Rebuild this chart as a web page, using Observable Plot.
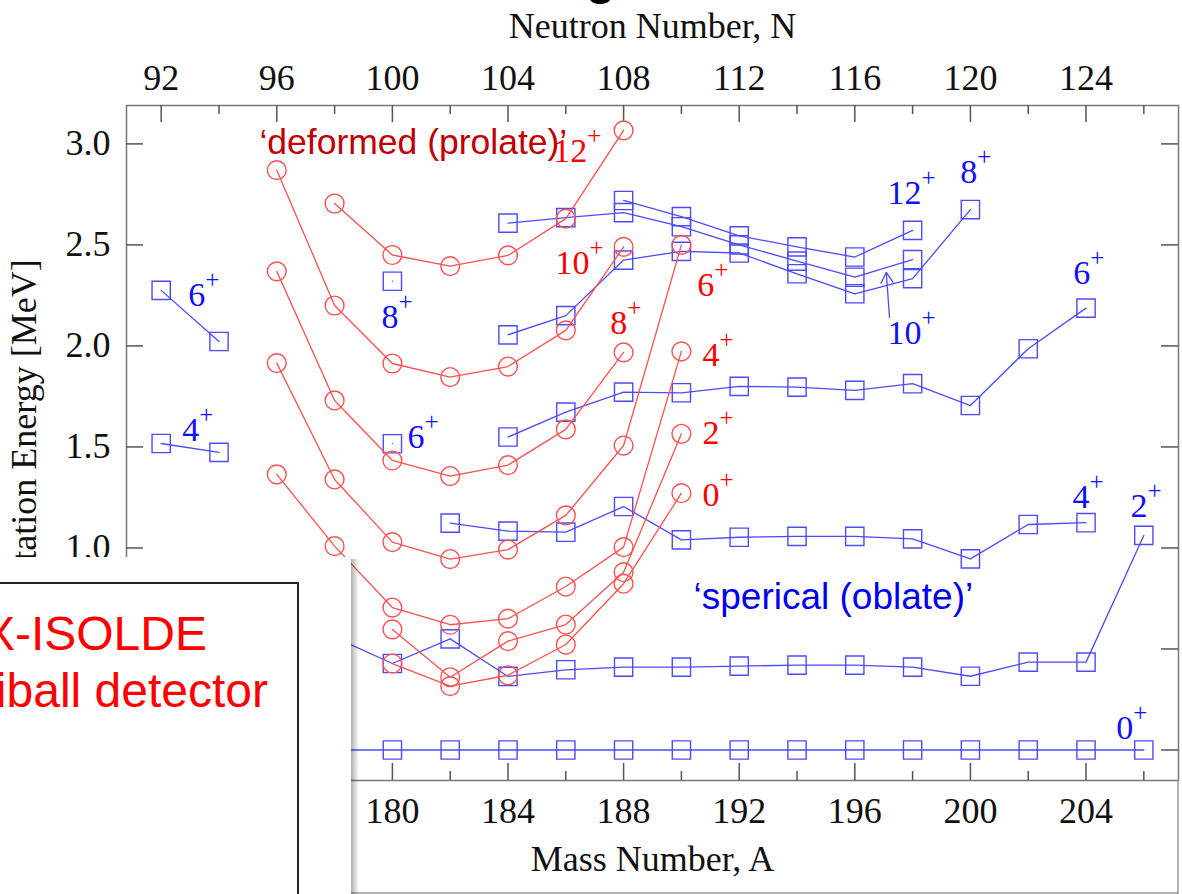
<!DOCTYPE html>
<html><head><meta charset="utf-8">
<script src="https://cdn.jsdelivr.net/npm/d3@7"></script>
<script src="https://cdn.jsdelivr.net/npm/@observablehq/plot@0.6"></script>
<style>
html,body{margin:0;padding:0;background:#fff;overflow:hidden;}
#wrap{position:relative;width:1182px;height:894px;overflow:hidden;background:#fff;}
#overlay{position:absolute;left:0;top:0;pointer-events:none;}
</style></head>
<body><div id="wrap"></div>
<script>
// Hg isotopes: N = A - Z
const Z = 80;
const neutronTicks = [92,96,100,104,108,112,116,120,124];
const neutronMinorTicks = [94,98,102,106,110,114,118,122,126];
const massTicks = [172,176,180,184,188,192,196,200,204];
const massMinorTicks = [174,178,182,186,190,194,198,202,206];
const energyTicks = [0,0.5,1.0,1.5,2.0,2.5,3.0];

// 'spherical (oblate)' states (blue squares)
const oblA0 = [172,174,176,178,180,182,184,186,188,190,192,194,196,198,200,202,204,206];
const oblE0 = [0,0,0,0,0,0,0,0,0,0,0,0,0,0,0,0,0,0];
const oblA2 = [178,180,182,184,186,188,190,192,194,196,198,200,202,204,206];
const oblE2 = [0.557,0.428,0.55,0.364,0.397,0.41,0.41,0.415,0.42,0.42,0.41,0.365,0.435,0.435,1.062];
const oblA4a = [172,174];
const oblE4a = [1.517,1.473];
const oblA4 = [182,184,186,188,190,192,194,196,198,200,202,204];
const oblE4 = [1.123,1.083,1.078,1.205,1.04,1.053,1.057,1.057,1.045,0.946,1.116,1.125];
const oblA6a = [172,174];
const oblE6a = [2.275,2.022];
const oblA6b = [180];
const oblE6b = [1.516];
const oblA6 = [184,186,188,190,192,194,196,198,200,202,204];
const oblE6 = [1.549,1.672,1.771,1.768,1.80,1.796,1.78,1.813,1.705,1.986,2.187];
const oblA8b = [180];
const oblE8b = [2.32];
const oblA8 = [184,186,188,190,192,194,196,198,200];
const oblE8 = [2.055,2.15,2.425,2.468,2.46,2.357,2.258,2.333,2.675];
const oblA10 = [184,186,188,190,192,194,196,198];
const oblE10 = [2.608,2.635,2.66,2.59,2.50,2.42,2.34,2.427];
const oblA12 = [188,190,192,194,196,198];
const oblE12 = [2.72,2.64,2.545,2.49,2.44,2.572];

// 'deformed (prolate)' states (red circles)
const proA0 = [180,182,184,186,188,190];
const proE0 = [0.428,0.316,0.37,0.522,0.823,1.271];
const proA2 = [180,182,184,186,188,190];
const proE2 = [0.597,0.36,0.539,0.621,0.88,1.565];
const proA4 = [176,178,180,182,184,186,188,190];
const proE4 = [1.364,1.009,0.705,0.62,0.65,0.809,1.004,1.973];
const proA6 = [176,178,180,182,184,186,188,190];
const proE6 = [1.915,1.339,1.029,0.945,0.992,1.161,1.507,2.50];
const proA8 = [176,178,180,182,184,186,188];
const proE8 = [2.369,1.73,1.433,1.356,1.41,1.587,1.968];
const proA10 = [176,178,180,182,184,186,188];
const proE10 = [2.87,2.20,1.913,1.846,1.898,2.077,2.49];
const proA12 = [178,180,182,184,186,188];
const proE12 = [2.705,2.45,2.395,2.448,2.63,3.067];

// level labels
const blueLabelText = ["6+","4+","8+","6+","12+","8+","10+","6+","4+","2+","0+"];
const blueLabelA = [172.94,172.73,179.62,180.52,197.13,199.65,197.13,203.56,203.53,205.54,205.05];
const blueLabelE = [2.25,1.582,2.141,1.547,2.755,2.859,2.062,2.359,1.25,1.205,0.106];
const redLabelText = ["12+","10+","8+","6+","4+","2+","0+"];
const redLabelA = [185.57,185.64,187.54,190.55,190.73,190.73,190.73];
const redLabelE = [2.963,2.408,2.111,2.30,1.953,1.567,1.26];

// arrow pointing at the oblate 10+ line
const arrowA = [197.20,197.09];
const arrowE = [2.141,2.364];

const BLUE = "#4b4bff", RED = "#ff5050";

function series(key, A, E) { return A.map((a,i) => ({key, A:a, E:E[i]})); }
const oblate = [
  ...series("o0",oblA0,oblE0), ...series("o2",oblA2,oblE2),
  ...series("o4a",oblA4a,oblE4a), ...series("o4",oblA4,oblE4),
  ...series("o6a",oblA6a,oblE6a), ...series("o6b",oblA6b,oblE6b), ...series("o6",oblA6,oblE6),
  ...series("o8b",oblA8b,oblE8b), ...series("o8",oblA8,oblE8),
  ...series("o10",oblA10,oblE10), ...series("o12",oblA12,oblE12)
];
const prolate = [
  ...series("p0",proA0,proE0), ...series("p2",proA2,proE2), ...series("p4",proA4,proE4),
  ...series("p6",proA6,proE6), ...series("p8",proA8,proE8), ...series("p10",proA10,proE10),
  ...series("p12",proA12,proE12)
];
const blueLabels = blueLabelText.map((t,i) => ({t, A: blueLabelA[i], E: blueLabelE[i]}));
const redLabels = redLabelText.map((t,i) => ({t, A: redLabelA[i], E: redLabelE[i]}));

const W = 1182, H = 894, mL = 126, mR = 4, mT = 105, mB = 114;
const iw = W - mL - mR, ih = H - mT - mB;

const chart = Plot.plot({
  width: W, height: H,
  marginLeft: mL, marginRight: mR, marginTop: mT, marginBottom: mB,
  style: {fontFamily: "'Liberation Serif', 'Times New Roman', serif", fontSize: "36px", background: "#fff", color: "#111"},
  x: {domain: [170.8, 207.2]},
  y: {domain: [-0.151, 3.19]},
  marks: [
    Plot.frame({stroke: "#777", strokeWidth: 1.5}),
    // inward ticks
    Plot.ruleX(massTicks, {x: d => d, insetTop: ih - 17, stroke: "#555", strokeWidth: 1.5}),
    Plot.ruleX(massMinorTicks, {x: d => d, insetTop: ih - 9, stroke: "#555", strokeWidth: 1.5}),
    Plot.ruleX(neutronTicks, {x: n => n + Z, insetBottom: ih - 17, stroke: "#555", strokeWidth: 1.5}),
    Plot.ruleX(neutronMinorTicks, {x: n => n + Z, insetBottom: ih - 9, stroke: "#555", strokeWidth: 1.5}),
    Plot.ruleY(energyTicks, {y: d => d, insetRight: iw - 17, stroke: "#555", strokeWidth: 1.5}),
    Plot.ruleY(energyTicks, {y: d => d, insetLeft: iw - 17, stroke: "#555", strokeWidth: 1.5}),
    // axis labels
    Plot.axisX({anchor: "bottom", ticks: massTicks, tickSize: 0, tickPadding: 17, label: null, fontSize: 36}),
    Plot.axisX({anchor: "top", ticks: neutronTicks.map(n => n + Z), tickSize: 0, tickPadding: 16, label: null, fontSize: 36, tickFormat: a => String(a - Z)}),
    Plot.axisY({anchor: "left", ticks: energyTicks, tickSize: 0, tickPadding: 16, label: null, fontSize: 36, tickFormat: d => d.toFixed(1)}),
    Plot.text(["Neutron Number, N"], {frameAnchor: "top", dy: -68, lineAnchor: "bottom", fontSize: 36, fill: "#111"}),
    Plot.text(["Mass Number, A"], {frameAnchor: "bottom", dy: 90, lineAnchor: "bottom", fontSize: 36, fill: "#111"}),
    Plot.text(["Excitation Energy [MeV]"], {frameAnchor: "left", textAnchor: "middle", rotate: -90, dx: -102, fontSize: 36, fill: "#111"}),
    // oblate (blue)
    Plot.line(oblate, {x: "A", y: "E", z: "key", stroke: BLUE, strokeWidth: 1.3}),
    Plot.dot(oblate, {x: "A", y: "E", symbol: "square", r: 10.3, fill: "none", stroke: BLUE, strokeWidth: 1.4}),
    // prolate (red)
    Plot.line(prolate, {x: "A", y: "E", z: "key", stroke: RED, strokeWidth: 1.3}),
    Plot.dot(prolate, {x: "A", y: "E", symbol: "circle", r: 9.4, fill: "none", stroke: RED, strokeWidth: 1.4}),
    Plot.arrow([0], {x1: () => arrowA[0], y1: () => arrowE[0], x2: () => arrowA[1], y2: () => arrowE[1], stroke: BLUE, strokeWidth: 1.3, headLength: 14}),
    // labels
    Plot.text(blueLabels, {x: "A", y: "E", text: "t", textAnchor: "start", fontSize: 34, fill: "#1010ff"}),
    Plot.text(redLabels, {x: "A", y: "E", text: "t", textAnchor: "start", fontSize: 34, fill: "#ff0000"}),
    Plot.text(["‘deformed (prolate)’"], {x: () => 175.4, y: () => 2.948, textAnchor: "start", lineAnchor: "bottom", fontSize: 35.5, fontFamily: "'Liberation Sans', Arial, sans-serif", fill: "#c00000"}),
    Plot.text(["‘sperical (oblate)’"], {x: () => 190.42, y: () => 0.70, textAnchor: "start", lineAnchor: "bottom", fontSize: 37, fontFamily: "'Liberation Sans', Arial, sans-serif", fill: "#0000ee"})
  ]
});

// superscript "+" in level labels
const NS = "http://www.w3.org/2000/svg";
chart.querySelectorAll("text").forEach(t => {
  const m = (t.textContent || "").match(/^(\d+)\+$/);
  if (m && t.children.length === 0) {
    t.textContent = m[1];
    const ts = document.createElementNS(NS, "tspan");
    ts.setAttribute("font-size", "25");
    ts.setAttribute("dy", "-18");
    ts.textContent = "+";
    t.appendChild(ts);
  }
});

const wrap = document.getElementById("wrap");
wrap.appendChild(chart);

// slide overlay (box covering the lower-left corner)
const ov = document.createElementNS(NS, "svg");
ov.setAttribute("id", "overlay");
ov.setAttribute("width", W);
ov.setAttribute("height", H);
ov.innerHTML = `
  <defs>
    <linearGradient id="sh" x1="0" x2="1" y1="0" y2="0">
      <stop offset="0" stop-color="#000" stop-opacity="0.35"/>
      <stop offset="1" stop-color="#000" stop-opacity="0"/>
    </linearGradient>
  </defs>
  <text x="586" y="-6" font-family="'Liberation Sans', Arial, sans-serif" font-weight="bold" font-size="48" fill="#000">g</text>
  <line x1="350" y1="893" x2="1178" y2="893" stroke="#999" stroke-width="1.5"/>
  <line x1="1178" y1="780" x2="1178" y2="894" stroke="#999" stroke-width="1.5"/>
  <rect x="350" y="559" width="9" height="335" fill="url(#sh)"/>
  <rect x="0" y="557" width="351" height="337" fill="#fff"/>
  <rect x="-10" y="583" width="308" height="400" fill="none" stroke="#222" stroke-width="2"/>
  <text x="207" y="650" text-anchor="end" font-family="'Liberation Sans', Arial, sans-serif" font-size="48" fill="#ff0000">REX-ISOLDE</text>
  <text x="268" y="707" text-anchor="end" font-family="'Liberation Sans', Arial, sans-serif" font-size="48" fill="#ff0000">Miniball detector</text>
`;
wrap.appendChild(ov);
</script>
</body></html>
